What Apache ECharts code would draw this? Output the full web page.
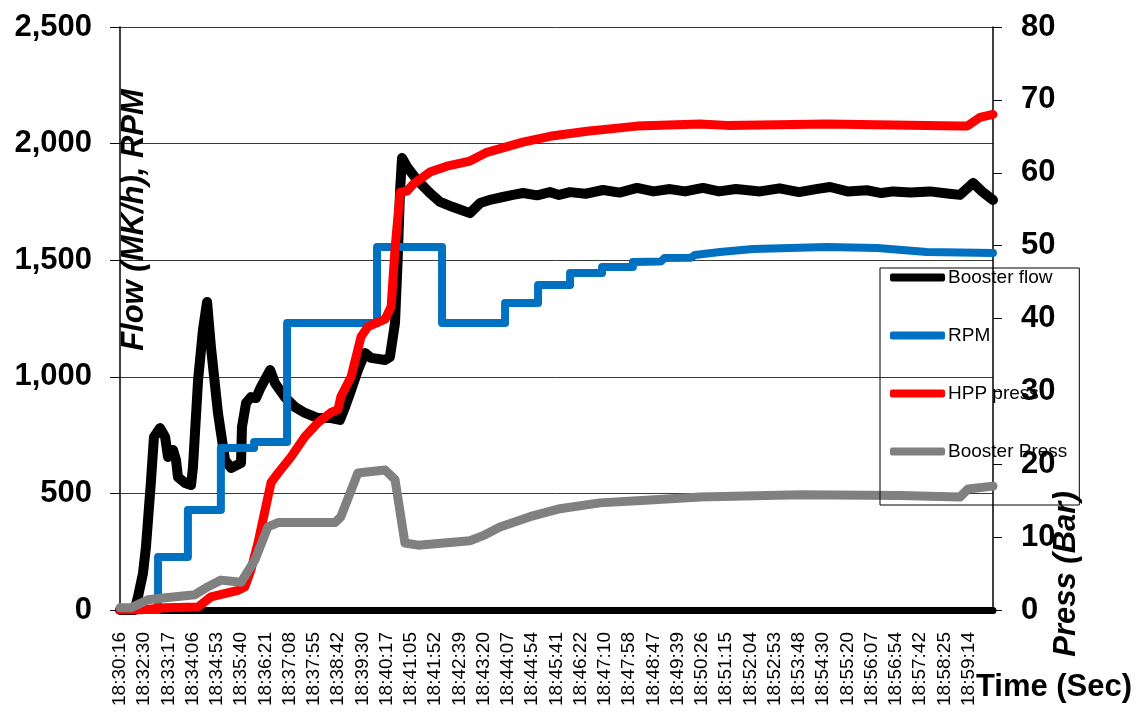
<!DOCTYPE html>
<html>
<head>
<meta charset="utf-8">
<title>Booster flow / RPM / press</title>
<script src="https://cdn.jsdelivr.net/npm/echarts@6/dist/echarts.min.js"></script>
<style>
    html, body {margin: 0; padding: 0; background: #fff;}
    #chart {width: 1138px; height: 715px;}
</style>
</head>
<body>
<div id="chart"></div>
<script>
// x values are positions on the time axis (0 = first label, 1 = next label ...)
var timeLabels = ['18:30:16', '18:32:30', '18:33:17', '18:34:06', '18:34:53', '18:35:40', '18:36:21', '18:37:08',
    '18:37:55', '18:38:42', '18:39:30', '18:40:17', '18:41:05', '18:41:52', '18:42:39', '18:43:20', '18:44:07',
    '18:44:54', '18:45:41', '18:46:22', '18:47:10', '18:47:58', '18:48:47', '18:49:39', '18:50:26', '18:51:15',
    '18:52:04', '18:52:53', '18:53:48', '18:54:30', '18:55:20', '18:56:07', '18:56:54', '18:57:42', '18:58:25',
    '18:59:14'];

// Booster flow (left axis)
var boosterFlow = [[0, 0], [0.6, 0], [0.74, 56], [0.95, 159], [1.07, 270], [1.28, 557], [1.40, 742], [1.65, 780],
    [1.86, 742], [1.98, 656], [2.19, 686], [2.31, 643], [2.39, 570], [2.68, 545], [2.93, 536], [3.01, 613],
    [3.22, 986], [3.42, 1201], [3.59, 1321], [3.75, 1128], [4.04, 845], [4.33, 643], [4.58, 609], [4.99, 630],
    [5.03, 785], [5.20, 888], [5.40, 913], [5.61, 909], [5.81, 956], [6.19, 1029], [6.39, 973], [6.80, 913],
    [7.22, 870], [7.63, 845], [8.16, 823], [8.70, 823], [9.07, 815], [9.28, 870], [9.53, 943], [9.81, 1029],
    [10.10, 1102], [10.35, 1081], [10.93, 1072], [11.13, 1085], [11.34, 1231], [11.45, 1500], [11.55, 1800],
    [11.63, 1938], [11.84, 1900], [12.25, 1844], [12.78, 1788], [13.20, 1750], [13.73, 1728], [14.43, 1702],
    [14.85, 1745], [15.3, 1760], [15.79, 1771], [16.2, 1780], [16.62, 1788], [17.2, 1778], [17.73, 1792],
    [18.1, 1780], [18.56, 1792], [19.2, 1785], [19.92, 1801], [20.6, 1790], [21.32, 1810], [22.0, 1795],
    [22.68, 1805], [23.3, 1795], [24.04, 1810], [24.7, 1795], [25.4, 1805], [26.39, 1795], [27.2, 1808],
    [28.0, 1792], [28.7, 1805], [29.28, 1814], [30.0, 1795], [30.8, 1800], [31.4, 1788], [31.88, 1795],
    [32.6, 1790], [33.4, 1795], [34.2, 1785], [34.64, 1780], [35.18, 1831], [35.6, 1790], [36, 1758]];

// RPM (left axis)
var rpm = [[0, 0], [1.57, 0], [1.57, 227], [2.80, 227], [2.80, 429], [4.16, 429], [4.16, 695], [5.53, 695],
    [5.53, 720], [6.89, 720], [6.89, 1231], [10.60, 1231], [10.60, 1557], [13.28, 1557], [13.28, 1231],
    [15.88, 1231], [15.88, 1316], [17.24, 1316], [17.24, 1394], [18.56, 1394], [18.56, 1445], [19.88, 1445],
    [19.88, 1471], [21.15, 1471], [21.15, 1492], [22.3, 1494], [22.45, 1509], [23.55, 1511], [23.7, 1522],
    [24.74, 1535], [26.10, 1548], [29.15, 1557], [31.22, 1552], [33.28, 1535], [36, 1531]];

// HPP press (right axis)
var hppPress = [[0, 0], [0.82, 0], [1.86, 0.3], [3.22, 0.4], [3.75, 1.8], [4.87, 2.7], [5.15, 3.2], [5.40, 5.5],
    [5.69, 9.2], [6.10, 15.5], [6.23, 17.5], [6.52, 18.8], [7.05, 21.0], [7.63, 23.8], [8.16, 25.7], [8.70, 27.1],
    [8.99, 27.5], [9.11, 29.3], [9.53, 32.0], [9.94, 37.5], [10.23, 38.9], [10.93, 39.9], [11.18, 41.6],
    [11.34, 49.5], [11.55, 57.3], [11.84, 57.5], [12.08, 58.4], [12.78, 60.1], [13.48, 60.9], [14.43, 61.6],
    [15.13, 62.8], [16.62, 64.2], [17.73, 65.0], [19.26, 65.7], [21.32, 66.4], [23.92, 66.7], [25.03, 66.5],
    [29.15, 66.7], [34.64, 66.4], [34.93, 66.4], [35.46, 67.6], [36, 68.0]];

// Booster Press (right axis)
var boosterPress = [[0, 0.3], [0.45, 0.3], [1.15, 1.4], [1.69, 1.6], [3.09, 2.1], [3.63, 3.2], [4.16, 4.1],
    [4.99, 3.8], [5.57, 6.9], [6.10, 11.4], [6.52, 12.0], [8.87, 12.0], [9.11, 12.8], [9.81, 18.8], [10.93, 19.2],
    [11.34, 17.9], [11.75, 9.2], [12.29, 8.9], [14.43, 9.5], [14.97, 10.2], [15.67, 11.4], [16.91, 12.8],
    [18.14, 13.9], [19.79, 14.7], [21.86, 15.1], [23.92, 15.5], [28.04, 15.8], [32.16, 15.7], [34.64, 15.5],
    [34.97, 16.6], [36, 17.0]];

var flowTicks = [0, 500, 1000, 1500, 2000, 2500];
var pressTicks = [0, 10, 20, 30, 40, 50, 60, 70, 80];

var fontName = '"Liberation Sans", Arial, sans-serif';

function lineSeries(name, color, yIndex, data, width) {
    return {
        name: name,
        type: 'line',
        yAxisIndex: yIndex,
        data: data,
        showSymbol: false,
        symbol: 'none',
        animation: false,
        lineStyle: {color: color, width: width, cap: 'round', join: 'round'},
        itemStyle: {color: color}
    };
}

var myChart = echarts.init(document.getElementById('chart'));
var option = {
    backgroundColor: '#fff',
    animation: false,
    grid: {left: 120, right: 145, top: 27, bottom: 105, containLabel: false},
    legend: {
        orient: 'vertical',
        left: 880,
        top: 268,
        padding: [0, 12, 44, 10],
        itemGap: 39,
        itemWidth: 55,
        itemHeight: 8,
        icon: 'roundRect',
        borderColor: '#000',
        borderWidth: 1,
        backgroundColor: 'transparent',
        textStyle: {fontFamily: fontName, fontSize: 19, color: '#000', padding: [0, 0, 0, -2]},
        data: ['Booster flow', 'RPM', 'HPP press', 'Booster Press']
    },
    xAxis: {
        type: 'value',
        min: 0,
        max: 36,
        interval: 1,
        axisLine: {onZero: false, lineStyle: {color: '#000', width: 7}},
        axisTick: {show: false},
        splitLine: {show: false},
        axisLabel: {
            rotate: 90,
            margin: 22,
            fontFamily: fontName,
            fontSize: 19,
            color: '#000',
            showMaxLabel: true,
            formatter: function (v) {
                return timeLabels[Math.round(v)] || '';
            }
        }
    },
    yAxis: [
        {
            type: 'value',
            min: flowTicks[0],
            max: flowTicks[flowTicks.length - 1],
            interval: 500,
            axisLine: {show: true, lineStyle: {color: '#000', width: 1.5}},
            axisTick: {show: true, inside: false, length: 10, lineStyle: {color: '#000'}},
            splitLine: {show: true, lineStyle: {color: '#3a3a3a', width: 1}},
            axisLabel: {
                margin: 28,
                fontFamily: fontName,
                fontSize: 31,
                fontWeight: 'bold',
                color: '#000',
                formatter: function (v) {
                    return v.toString().replace(/\B(?=(\d{3})+(?!\d))/g, ',');
                }
            }
        },
        {
            type: 'value',
            position: 'right',
            min: pressTicks[0],
            max: pressTicks[pressTicks.length - 1],
            interval: 10,
            axisLine: {show: true, lineStyle: {color: '#000', width: 1.5}},
            axisTick: {show: true, inside: false, length: 9, lineStyle: {color: '#000'}},
            splitLine: {show: false},
            axisLabel: {
                margin: 28,
                fontFamily: fontName,
                fontSize: 31,
                fontWeight: 'bold',
                color: '#000'
            }
        }
    ],
    // axis titles
    graphic: [
        {
            type: 'text', x: 134, y: 220, rotation: Math.PI / 2, z: 100,
            style: {
                text: 'Flow (MK/h), RPM', fill: '#000', align: 'center', verticalAlign: 'middle',
                font: 'italic bold 31px ' + fontName
            }
        },
        {
            type: 'text', x: 1066, y: 574, rotation: Math.PI / 2, z: 100,
            style: {
                text: 'Press (Bar)', fill: '#000', align: 'center', verticalAlign: 'middle',
                font: 'italic bold 31px ' + fontName
            }
        },
        {
            type: 'text', x: 1054, y: 687, z: 100,
            style: {
                text: 'Time (Sec)', fill: '#000', align: 'center', verticalAlign: 'middle',
                font: 'bold 31px ' + fontName
            }
        }
    ],
    series: [
        lineSeries('Booster flow', '#000000', 0, boosterFlow, 10),
        lineSeries('RPM', '#0070C0', 0, rpm, 8),
        lineSeries('HPP press', '#FF0000', 1, hppPress, 9),
        lineSeries('Booster Press', '#808080', 1, boosterPress, 9)
    ]
};
myChart.setOption(option);
</script>
</body>
</html>
